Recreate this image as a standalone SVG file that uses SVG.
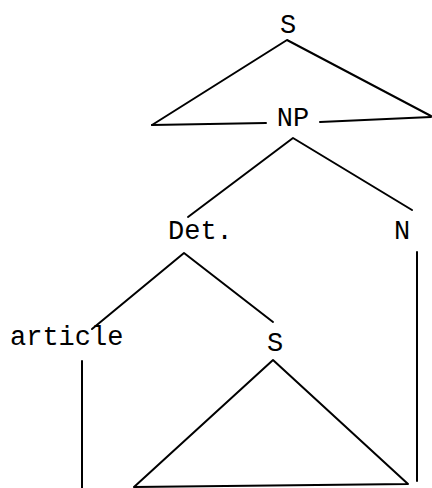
<svg xmlns="http://www.w3.org/2000/svg" width="432" height="488" viewBox="0 0 432 488">
<style>
.t{font-family:"Liberation Mono","DejaVu Sans Mono",monospace;font-size:27px;fill:#000}
.l{stroke:#000;stroke-width:2;fill:none;stroke-linecap:round;stroke-linejoin:round}
</style>
<rect width="432" height="488" fill="#fff"/>
<g id="connectors">
<path class="l" d="M152 125 L287 40 L431 116"/>
<path class="l" d="M152 125 L266 123"/>
<path class="l" d="M320 122 L431 117"/>
<path class="l" d="M188 217 L293 138 L412 210"/>
<path class="l" d="M92 329 L184 253 L273 322"/>
<path class="l" d="M82 361 L82 488"/>
<path class="l" d="M417 252 L417 481"/>
<path class="l" d="M273 360 L134 487 L408 484 Z"/>
</g>
<g id="node-S-top"><text class="t" x="288" y="33" text-anchor="middle">S</text></g>
<g id="node-NP"><text class="t" x="293" y="126" text-anchor="middle">NP</text></g>
<g id="node-Det"><text class="t" x="168" y="239">Det.</text></g>
<g id="node-N"><text class="t" x="402" y="239" text-anchor="middle">N</text></g>
<g id="node-article"><text class="t" x="10" y="345">article</text></g>
<g id="node-S-embedded"><text class="t" x="275" y="351" text-anchor="middle">S</text></g>
</svg>
